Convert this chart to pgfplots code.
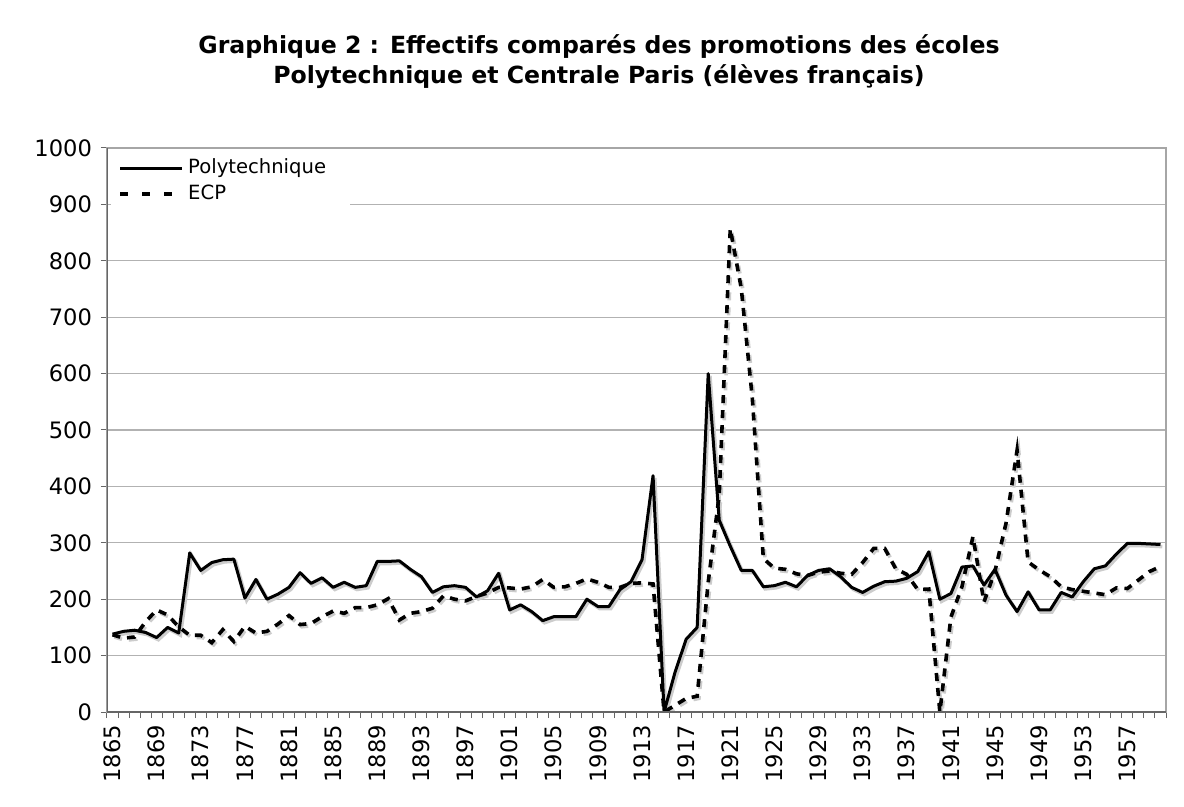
\documentclass[border=0pt]{standalone}
\usepackage{pgfplots}
\usepackage{pgfplotstable}
\pgfplotsset{compat=1.18}
\usepackage{fontspec}
\setmainfont{DejaVu Sans}

\pgfplotstableread{
year poly ecp
1865 138 137
1866 143 131
1867 145 133
1868 141 160
1869 132 181
1870 150 172
1871 140 151
1872 282 136
1873 251 136
1874 265 123
1875 270 146
1876 271 125
1877 202 152
1878 235 140
1879 200 143
1880 209 156
1881 221 171
1882 247 155
1883 228 157
1884 238 169
1885 221 179
1886 230 175
1887 221 185
1888 224 185
1889 267 190
1890 267 201
1891 268 163
1892 253 175
1893 240 178
1894 212 184
1895 222 206
1896 224 200
1897 221 197
1898 204 205
1899 215 211
1900 246 221
1901 181 220
1902 190 218
1903 178 222
1904 162 235
1905 169 221
1906 169 222
1907 169 228
1908 200 236
1909 187 230
1910 187 221
1911 217 221
1912 231 228
1913 270 229
1914 419 227
1915 0 0
1916 71 12
1917 129 24
1918 150 28
1919 600 230
1920 340 385
1921 294 857
1922 251 751
1923 251 556
1924 222 272
1925 224 255
1926 230 253
1927 222 245
1928 242 242
1929 251 248
1930 254 250
1931 240 246
1932 221 244
1933 212 265
1934 223 290
1935 231 290
1936 232 254
1937 237 244
1938 249 217
1939 284 218
1940 200 0
1941 210 168
1942 257 222
1943 259 311
1944 225 195
1945 253 250
1946 207 335
1947 178 464
1948 213 266
1949 181 252
1950 181 240
1951 212 222
1952 204 217
1953 231 214
1954 254 211
1955 259 208
1956 280 220
1957 299 219
1958 299 234
1959 298 249
1960 297 258
}\datatable

\begin{document}
\begin{tikzpicture}
\path[fill=white] (0pt,0pt) rectangle (592pt,-403.5pt);
\node[font=\bfseries\fontsize{11.8}{15}\selectfont, align=center] at (299.5pt,-31pt) {Graphique 2 : Effectifs comparés des promotions des écoles\\Polytechnique et Centrale Paris (élèves français)};
\begin{axis}[
  at={(53.5pt,-356pt)}, anchor=south west,
  scale only axis, width=529.5pt, height=282pt,
  xmin=1864.5, xmax=1960.5, ymin=0, ymax=1000,
  xtick={1865,1869,...,1957},
  minor xtick={1864.5,1865.5,...,1960.5},
  ytick={0,100,...,1000},
  major x tick style={draw=none},
  minor tick length=3pt,
  major tick length=3pt,
  tick align=outside,
  tick style={black!60, line width=0.5pt},
  xtick pos=bottom, ytick pos=left,
  ymajorgrids,
  grid style={black!30, line width=0.6pt},
  axis line style={black!35, line width=0.6pt},
  tick label style={font=\fontsize{11.3}{13}\selectfont},
  yticklabel style={xshift=-1pt},
  /pgf/number format/.cd, 1000 sep={}, assume math mode=true,
  /pgfplots/.cd,
  xticklabel style={rotate=90, anchor=east},
  legend style={at={(rel axis cs:0.003,0.997)}, anchor=north west, draw=none, fill=white,
    font=\fontsize{9.8}{11}\selectfont, row sep=0pt, inner xsep=4pt, inner ysep=2.5pt,
    cells={anchor=west}, text width=75pt},
  legend cell align=left,
]
% shadows
\addplot[forget plot, black!20, line width=1.7pt, transform canvas={xshift=0.9pt,yshift=-1.1pt}] table[x=year,y=poly] {\datatable};
\addplot[forget plot, black!20, line width=1.8pt, dash pattern=on 4pt off 3.5pt, transform canvas={xshift=0.9pt,yshift=-1.1pt}] table[x=year,y=ecp] {\datatable};
% series
\addplot[black, line width=1.5pt, line join=round,
  legend image code/.code={\draw[black, line width=1.5pt] (0pt,0pt) -- (31pt,0pt);}] table[x=year,y=poly] {\datatable};
\addlegendentry{Polytechnique}
\addplot[black, line width=1.8pt, dash pattern=on 4pt off 3.5pt,
  legend image code/.code={\draw[black, line width=1.8pt, dash pattern=on 4pt off 7pt] (0pt,0pt) -- (31pt,0pt);}] table[x=year,y=ecp] {\datatable};
\addlegendentry{ECP}
\draw[black!60, line width=0.8pt] (rel axis cs:0,0) -- (rel axis cs:0,1);
\draw[black!60, line width=0.8pt] (rel axis cs:0,0) -- (rel axis cs:1,0);
\end{axis}
\end{tikzpicture}
\end{document}
